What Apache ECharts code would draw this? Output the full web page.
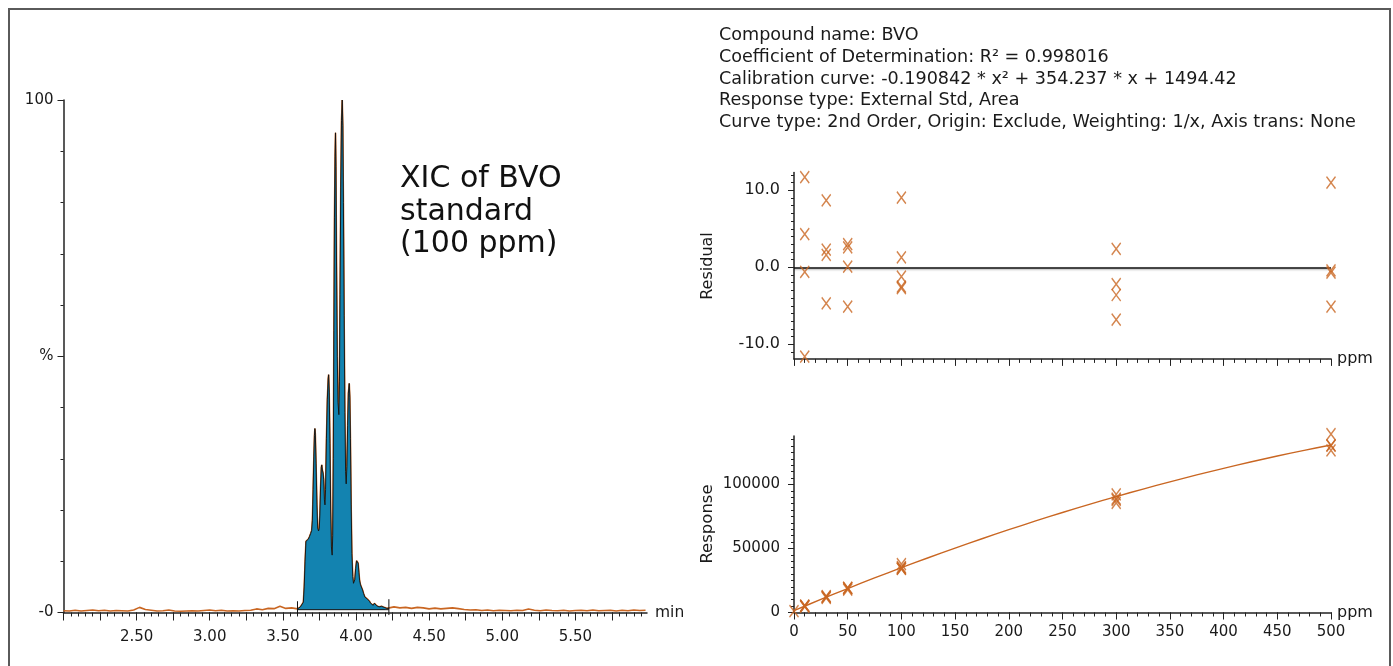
<!DOCTYPE html>
<html><head><meta charset="utf-8">
<script src="https://cdn.jsdelivr.net/npm/echarts@6/dist/echarts.min.js"></script>
<style>html,body{margin:0;padding:0;background:#fff}#c{width:1393px;height:666px}</style>
</head><body><div id="c"></div>
<script>
// ---------- DATA ----------
// Chromatogram (XIC of BVO, 100 ppm): time (min), relative intensity (%)
const baselineBefore = [[2.00,0.35],[2.04,0.3],[2.08,0.45],[2.12,0.3],[2.16,0.4],[2.20,0.5],[2.24,0.35],[2.28,0.45],[2.32,0.3],[2.36,0.4],[2.40,0.35],[2.44,0.3],[2.48,0.5],[2.52,1.0],[2.56,0.6],[2.60,0.45],[2.64,0.3],[2.68,0.35],[2.72,0.5],[2.76,0.3],[2.80,0.25],[2.84,0.3],[2.88,0.35],[2.92,0.3],[2.96,0.4],[3.00,0.5],[3.04,0.35],[3.08,0.45],[3.12,0.3],[3.16,0.35],[3.20,0.3],[3.24,0.4],[3.28,0.45],[3.32,0.7],[3.36,0.55],[3.40,0.8],[3.44,0.75],[3.48,1.2],[3.52,0.8],[3.56,0.9]];
const peakTrace = [[3.600,0.7],[3.610,0.9],[3.620,1.1],[3.630,1.4],[3.640,2.0],[3.646,5.0],[3.652,10.0],[3.658,13.9],[3.665,14.2],[3.674,14.3],[3.682,14.8],[3.690,15.4],[3.697,16.0],[3.702,18.0],[3.707,24.0],[3.712,30.5],[3.716,34.5],[3.719,35.9],[3.722,34.8],[3.727,29.0],[3.733,21.0],[3.738,16.5],[3.744,15.9],[3.749,16.4],[3.753,19.0],[3.758,24.5],[3.763,28.3],[3.766,28.8],[3.770,27.8],[3.775,27.2],[3.779,26.0],[3.784,22.0],[3.788,21.0],[3.792,24.0],[3.798,34.0],[3.804,41.5],[3.810,45.6],[3.813,46.4],[3.817,43.0],[3.822,33.0],[3.827,20.0],[3.832,12.8],[3.837,11.2],[3.841,15.0],[3.845,30.0],[3.849,55.0],[3.853,77.0],[3.857,89.0],[3.860,93.6],[3.863,87.0],[3.867,68.0],[3.872,50.0],[3.877,41.0],[3.883,38.6],[3.887,45.0],[3.891,62.0],[3.896,83.0],[3.901,96.0],[3.906,100.0],[3.910,95.0],[3.914,80.0],[3.919,58.0],[3.924,39.0],[3.929,27.5],[3.933,25.1],[3.938,28.5],[3.943,36.5],[3.948,42.8],[3.954,44.7],[3.958,42.0],[3.962,34.0],[3.967,21.0],[3.972,11.5],[3.978,7.0],[3.983,5.7],[3.987,5.4],[3.992,6.4],[3.998,8.6],[4.004,10.1],[4.010,10.4],[4.015,9.6],[4.020,7.8],[4.025,6.2],[4.031,5.4],[4.038,5.1],[4.045,4.4],[4.052,3.7],[4.061,3.0],[4.068,3.1],[4.075,2.7],[4.083,2.4],[4.092,2.2],[4.100,1.8],[4.110,1.6],[4.118,1.4],[4.126,1.8],[4.134,1.5],[4.142,1.3],[4.150,1.4],[4.158,1.1],[4.166,1.0],[4.175,1.2],[4.184,0.9],[4.193,1.0],[4.202,0.9],[4.212,0.8],[4.225,0.8]];
const baselineAfter = [[4.26,1.1],[4.30,0.9],[4.34,1.0],[4.38,0.8],[4.42,1.0],[4.46,0.9],[4.50,0.7],[4.54,0.85],[4.58,0.7],[4.62,0.8],[4.66,0.9],[4.70,0.75],[4.74,0.6],[4.78,0.5],[4.82,0.55],[4.86,0.4],[4.90,0.5],[4.94,0.35],[4.98,0.45],[5.02,0.4],[5.06,0.35],[5.10,0.45],[5.14,0.4],[5.18,0.7],[5.22,0.45],[5.26,0.35],[5.30,0.5],[5.34,0.4],[5.38,0.35],[5.42,0.45],[5.46,0.3],[5.50,0.4],[5.54,0.45],[5.58,0.35],[5.62,0.5],[5.66,0.35],[5.70,0.4],[5.74,0.45],[5.78,0.3],[5.82,0.45],[5.86,0.35],[5.90,0.5],[5.94,0.4],[5.98,0.45]];
const integrationLimits = [3.60, 4.225];
const integrationBaseLevel = 0.55;
const chromXLabelValues = [2.5, 3.0, 3.5, 4.0, 4.5, 5.0, 5.5];
const chromYLabelValues = [0, 50, 100];
const chromYLabels = ['-0', '%', '100'];

// Calibration: residuals (%) and responses vs concentration (ppm)
const residualPoints = [[10,11.7],[10,4.3],[10,-0.6],[10,-11.6],[30,8.7],[30,2.3],[30,1.6],[30,-4.7],[50,3.0],[50,2.6],[50,0.1],[50,-5.1],[100,9.05],[100,1.3],[100,-1.2],[100,-2.5],[100,-2.7],[300,2.4],[300,-2.2],[300,-3.6],[300,-6.8],[500,11.0],[500,-0.4],[500,-0.7],[500,-5.1]];
const responsePoints = [[0,1000],[10,5427],[10,5168],[10,4996],[10,4611],[30,12843],[30,12186],[30,12114],[30,11466],[50,19231],[50,19164],[50,18746],[50,17873],[100,37854],[100,35420],[100,34630],[100,34218],[100,34154],[300,92306],[300,88999],[300,87977],[300,85620],[500,139312],[500,130574],[500,130329],[500,126612]];
const curvePoints = [[0,1494],[25,10231],[50,18729],[75,26989],[100,35010],[125,42792],[150,50336],[175,57641],[200,64708],[225,71536],[250,78126],[275,84477],[300,90590],[325,96464],[350,102099],[375,107496],[400,112655],[425,117574],[450,122256],[475,126698],[500,130902]];
const ppmLabelValues = [0,50,100,150,200,250,300,350,400,450,500];
const residualLabelValues = [-10, 0, 10];
const responseLabelValues = [0, 50000, 100000];

const infoLines = [
  'Compound name: BVO',
  'Coefficient of Determination: R\u00B2 = 0.998016',
  'Calibration curve: -0.190842 * x\u00B2 + 354.237 * x + 1494.42',
  'Response type: External Std, Area',
  'Curve type: 2nd Order, Origin: Exclude, Weighting: 1/x, Axis trans: None'
];
const annotationLines = ['XIC of BVO', 'standard', '(100 ppm)'];

// ---------- RENDER ----------
function ticks(a, b, step, dec) {
  const out = []; const n = Math.round((b - a) / step);
  for (let i = 0; i <= n; i++) out.push(+(a + i * step).toFixed(dec));
  return out;
}
const FONT = 'DejaVu Sans';
const AX = '#222';
const TXT = '#1a1a1a';
const ORANGE = '#C96622';
const BLUE = '#1383B0';
const lblStyle = { fontFamily: FONT, fontSize: 15, color: TXT };

function axisBase(extra) {
  return Object.assign({
    type: 'value', splitLine: { show: false },
    axisLine: { show: false, onZero: false },
    axisTick: { show: false },
    axisLabel: { show: false }
  }, extra);
}
const tickLine = { color: AX, width: 1 };
const axisLineStyle = { show: true, onZero: false, lineStyle: { color: AX, width: 1.5 } };

const chromX = { min: 2.0, max: 5.99, gridIndex: 0, position: 'bottom' };
const ppmX = { min: 0, max: 500, position: 'bottom' };
const gridCommon = { containLabel: false, outerBoundsMode: 'none' };
const crossSymbol = 'path://M0,0L10,12M10,0L0,12';

const option = {
  animation: false,
  backgroundColor: '#fff',
  grid: [
    Object.assign({ left: 63.5, top: 100, width: 583.5, height: 512.5 }, gridCommon),
    Object.assign({ left: 794, top: 172.6, width: 537, height: 186.3 }, gridCommon),
    Object.assign({ left: 794, top: 435.9, width: 537, height: 176.6 }, gridCommon)
  ],
  xAxis: [
    axisBase(Object.assign({}, chromX, { axisLine: axisLineStyle,
      axisTick: { show: true, customValues: ticks(2.0, 5.95, 0.05, 2), length: 4, lineStyle: tickLine },
      name: 'min', nameLocation: 'end', nameGap: 8, nameTextStyle: Object.assign({}, lblStyle, { fontSize: 15.5, verticalAlign: 'middle' }) })),
    axisBase(Object.assign({}, chromX, {
      axisTick: { show: true, customValues: ticks(2.0, 5.75, 0.25, 2), length: 8, lineStyle: tickLine } })),
    axisBase(Object.assign({}, chromX, {
      axisLabel: Object.assign({ show: true, customValues: chromXLabelValues, margin: 17, formatter: v => v.toFixed(2) }, lblStyle) })),
    // residual x
    axisBase(Object.assign({ gridIndex: 1 }, ppmX, { axisLine: axisLineStyle,
      axisTick: { show: true, customValues: ticks(0, 500, 10, 0), length: 4, lineStyle: tickLine },
      name: 'ppm', nameLocation: 'end', nameGap: 6, nameTextStyle: Object.assign({}, lblStyle, { fontSize: 16 }) })),
    axisBase(Object.assign({ gridIndex: 1 }, ppmX, {
      axisTick: { show: true, customValues: ppmLabelValues, length: 7, lineStyle: tickLine } })),
    // response x
    axisBase(Object.assign({ gridIndex: 2 }, ppmX, { axisLine: axisLineStyle,
      axisTick: { show: true, customValues: ticks(0, 500, 10, 0), length: 4, lineStyle: tickLine },
      name: 'ppm', nameLocation: 'end', nameGap: 6, nameTextStyle: Object.assign({}, lblStyle, { fontSize: 16 }) })),
    axisBase(Object.assign({ gridIndex: 2 }, ppmX, {
      axisTick: { show: true, customValues: ppmLabelValues, length: 7, lineStyle: tickLine },
      axisLabel: Object.assign({ show: true, customValues: ppmLabelValues, margin: 12, formatter: v => String(v) }, lblStyle) }))
  ],
  yAxis: [
    axisBase({ gridIndex: 0, position: 'left', min: 0, max: 100, axisLine: axisLineStyle,
      axisTick: { show: true, customValues: ticks(0, 100, 10, 0), length: 3, lineStyle: tickLine } }),
    axisBase({ gridIndex: 0, position: 'left', min: 0, max: 100,
      axisTick: { show: true, customValues: chromYLabelValues, length: 6, lineStyle: tickLine },
      axisLabel: Object.assign({ show: true, customValues: chromYLabelValues, margin: 10,
        formatter: v => chromYLabels[chromYLabelValues.indexOf(v)] }, lblStyle) }),
    // residual y
    axisBase({ gridIndex: 1, position: 'left', min: -11.9, max: 12.3, axisLine: axisLineStyle,
      axisTick: { show: true, customValues: ticks(-11, 12, 1, 0), length: 3, lineStyle: tickLine } }),
    axisBase({ gridIndex: 1, position: 'left', min: -11.9, max: 12.3,
      axisTick: { show: true, customValues: residualLabelValues, length: 6, lineStyle: tickLine },
      axisLabel: Object.assign({ show: true, customValues: residualLabelValues, margin: 14, formatter: v => v.toFixed(1) }, lblStyle, { fontSize: 16 }) }),
    // response y
    axisBase({ gridIndex: 2, position: 'left', min: 0, max: 138000, axisLine: axisLineStyle,
      axisTick: { show: true, customValues: ticks(0, 135000, 5000, 0), length: 3, lineStyle: tickLine } }),
    axisBase({ gridIndex: 2, position: 'left', min: 0, max: 138000,
      axisTick: { show: true, customValues: responseLabelValues, length: 6, lineStyle: tickLine },
      axisLabel: Object.assign({ show: true, customValues: responseLabelValues, margin: 14, formatter: v => String(v) }, lblStyle) })
  ],
  series: [
    { type: 'line', xAxisIndex: 0, yAxisIndex: 0, data: baselineBefore.concat(peakTrace, baselineAfter),
      symbol: 'none', lineStyle: { color: ORANGE, width: 1.6 }, z: 2 },
    { type: 'line', xAxisIndex: 0, yAxisIndex: 0, data: peakTrace, symbol: 'none',
      lineStyle: { color: '#111', width: 0.9 }, areaStyle: { color: BLUE, opacity: 1, origin: integrationBaseLevel }, z: 3 },
    { type: 'line', xAxisIndex: 0, yAxisIndex: 0, symbol: 'none', clip: false,
      data: [[integrationLimits[0], integrationBaseLevel], [integrationLimits[1], integrationBaseLevel]],
      lineStyle: { color: '#111', width: 1 }, z: 4 },
    { type: 'line', xAxisIndex: 0, yAxisIndex: 0, symbol: 'none', clip: false,
      data: [[integrationLimits[0], -0.4], [integrationLimits[0], 2.2]], lineStyle: { color: '#111', width: 1 }, z: 4 },
    { type: 'line', xAxisIndex: 0, yAxisIndex: 0, symbol: 'none', clip: false,
      data: [[integrationLimits[1], -0.5], [integrationLimits[1], 2.6]], lineStyle: { color: '#111', width: 1 }, z: 4 },
    // residuals
    { type: 'scatter', xAxisIndex: 3, yAxisIndex: 2, data: residualPoints, clip: false,
      symbol: crossSymbol, symbolSize: [9, 12],
      itemStyle: { color: 'none', borderColor: ORANGE, borderWidth: 1.5 },
      markLine: { silent: true, symbol: 'none', label: { show: false },
        lineStyle: { color: '#111', width: 1.5, type: 'solid', shadowColor: 'rgba(0,0,0,0.35)', shadowBlur: 2, shadowOffsetY: 1 },
        data: [{ yAxis: 0 }] }, z: 5 },
    // response curve + points
    { type: 'line', xAxisIndex: 5, yAxisIndex: 4, data: curvePoints, symbol: 'none', smooth: 0.3,
      lineStyle: { color: ORANGE, width: 1.4 }, z: 3 },
    { type: 'scatter', xAxisIndex: 5, yAxisIndex: 4, data: responsePoints, clip: false,
      symbol: crossSymbol, symbolSize: [9, 12],
      itemStyle: { color: 'none', borderColor: ORANGE, borderWidth: 1.5 }, z: 5 }
  ],
  graphic: [
    { type: 'rect', shape: { x: 9, y: 9, width: 1381, height: 700 }, style: { fill: 'none', stroke: '#5a5a5a', lineWidth: 2 }, silent: true },
    { type: 'text', x: 719, y: 24.5, style: { text: infoLines.join('\n'), fontFamily: FONT, fontSize: 17.6, lineHeight: 21.8, fill: TXT } },
    { type: 'text', x: 400, y: 163, style: { text: annotationLines.join('\n'), fontFamily: FONT, fontSize: 30, lineHeight: 32.5, fill: '#111' } },
    { type: 'text', x: 708, y: 266, rotation: Math.PI / 2, style: { text: 'Residual', fontFamily: FONT, fontSize: 16, fill: TXT, align: 'center', verticalAlign: 'middle' } },
    { type: 'text', x: 708, y: 524, rotation: Math.PI / 2, style: { text: 'Response', fontFamily: FONT, fontSize: 16.5, fill: TXT, align: 'center', verticalAlign: 'middle' } }
  ]
};
const chart = echarts.init(document.getElementById('c'));
chart.setOption(option);
</script>
</body></html>
